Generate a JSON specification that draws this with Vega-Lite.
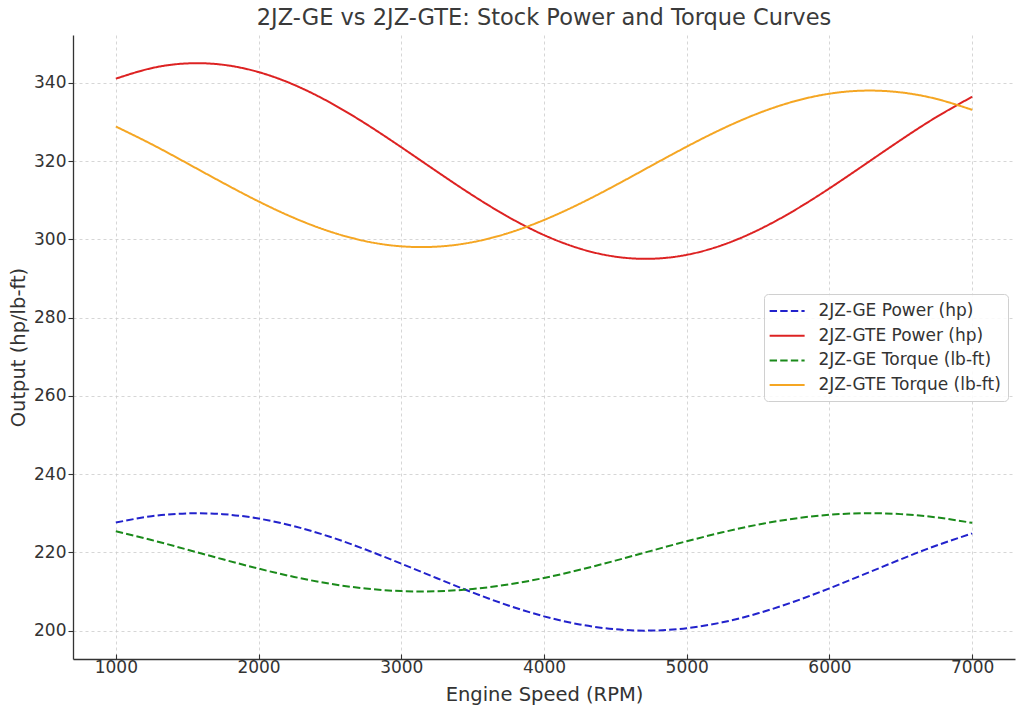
{
  "$schema": "https://vega.github.io/schema/vega-lite/v6.json",
  "width": 942,
  "height": 624,
  "autosize": {"type": "none"},
  "padding": {"left": 73, "top": 35, "right": 9, "bottom": 57},
  "background": "white",
  "title": {"text": "2JZ-GE vs 2JZ-GTE: Stock Power and Torque Curves", "fontSize": 22.5, "font": "DejaVu Sans", "fontWeight": "normal", "color": "#3a3a3a", "anchor": "middle", "offset": 6},
  "config": {
    "view": {"stroke": null},
    "font": "DejaVu Sans",
    "axis": {"labelFont": "DejaVu Sans", "titleFont": "DejaVu Sans", "labelColor": "#333333", "titleColor": "#333333", "titleFontWeight": "normal", "domainColor": "#333333", "tickColor": "#333333", "domainWidth": 1.3, "tickWidth": 1.1, "gridColor": "#cccccc", "gridDash": [3, 3], "gridWidth": 0.8, "labelFontSize": 17, "titleFontSize": 19.5}
  },
  "data": {"values": [
    {"rpm":1000,"series":"2JZ-GE Power (hp)","value":227.62},
    {"rpm":1250,"series":"2JZ-GE Power (hp)","value":229.23},
    {"rpm":1500,"series":"2JZ-GE Power (hp)","value":229.96},
    {"rpm":1750,"series":"2JZ-GE Power (hp)","value":229.76},
    {"rpm":2000,"series":"2JZ-GE Power (hp)","value":228.64},
    {"rpm":2250,"series":"2JZ-GE Power (hp)","value":226.67},
    {"rpm":2500,"series":"2JZ-GE Power (hp)","value":223.98},
    {"rpm":2750,"series":"2JZ-GE Power (hp)","value":220.72},
    {"rpm":3000,"series":"2JZ-GE Power (hp)","value":217.12},
    {"rpm":3250,"series":"2JZ-GE Power (hp)","value":213.38},
    {"rpm":3500,"series":"2JZ-GE Power (hp)","value":209.74},
    {"rpm":3750,"series":"2JZ-GE Power (hp)","value":206.43},
    {"rpm":4000,"series":"2JZ-GE Power (hp)","value":203.65},
    {"rpm":4250,"series":"2JZ-GE Power (hp)","value":201.58},
    {"rpm":4500,"series":"2JZ-GE Power (hp)","value":200.34},
    {"rpm":4750,"series":"2JZ-GE Power (hp)","value":200.01},
    {"rpm":5000,"series":"2JZ-GE Power (hp)","value":200.62},
    {"rpm":5250,"series":"2JZ-GE Power (hp)","value":202.12},
    {"rpm":5500,"series":"2JZ-GE Power (hp)","value":204.42},
    {"rpm":5750,"series":"2JZ-GE Power (hp)","value":207.38},
    {"rpm":6000,"series":"2JZ-GE Power (hp)","value":210.81},
    {"rpm":6250,"series":"2JZ-GE Power (hp)","value":214.50},
    {"rpm":6500,"series":"2JZ-GE Power (hp)","value":218.23},
    {"rpm":6750,"series":"2JZ-GE Power (hp)","value":221.75},
    {"rpm":7000,"series":"2JZ-GE Power (hp)","value":224.85},
    {"rpm":1000,"series":"2JZ-GTE Power (hp)","value":341.04},
    {"rpm":1250,"series":"2JZ-GTE Power (hp)","value":343.72},
    {"rpm":1500,"series":"2JZ-GTE Power (hp)","value":344.94},
    {"rpm":1750,"series":"2JZ-GTE Power (hp)","value":344.60},
    {"rpm":2000,"series":"2JZ-GTE Power (hp)","value":342.73},
    {"rpm":2250,"series":"2JZ-GTE Power (hp)","value":339.45},
    {"rpm":2500,"series":"2JZ-GTE Power (hp)","value":334.96},
    {"rpm":2750,"series":"2JZ-GTE Power (hp)","value":329.54},
    {"rpm":3000,"series":"2JZ-GTE Power (hp)","value":323.53},
    {"rpm":3250,"series":"2JZ-GTE Power (hp)","value":317.30},
    {"rpm":3500,"series":"2JZ-GTE Power (hp)","value":311.23},
    {"rpm":3750,"series":"2JZ-GTE Power (hp)","value":305.71},
    {"rpm":4000,"series":"2JZ-GTE Power (hp)","value":301.08},
    {"rpm":4250,"series":"2JZ-GTE Power (hp)","value":297.63},
    {"rpm":4500,"series":"2JZ-GTE Power (hp)","value":295.56},
    {"rpm":4750,"series":"2JZ-GTE Power (hp)","value":295.02},
    {"rpm":5000,"series":"2JZ-GTE Power (hp)","value":296.03},
    {"rpm":5250,"series":"2JZ-GTE Power (hp)","value":298.53},
    {"rpm":5500,"series":"2JZ-GTE Power (hp)","value":302.36},
    {"rpm":5750,"series":"2JZ-GTE Power (hp)","value":307.29},
    {"rpm":6000,"series":"2JZ-GTE Power (hp)","value":313.01},
    {"rpm":6250,"series":"2JZ-GTE Power (hp)","value":319.17},
    {"rpm":6500,"series":"2JZ-GTE Power (hp)","value":325.38},
    {"rpm":6750,"series":"2JZ-GTE Power (hp)","value":331.25},
    {"rpm":7000,"series":"2JZ-GTE Power (hp)","value":336.42},
    {"rpm":1000,"series":"2JZ-GE Torque (lb-ft)","value":225.40},
    {"rpm":1250,"series":"2JZ-GE Torque (lb-ft)","value":223.15},
    {"rpm":1500,"series":"2JZ-GE Torque (lb-ft)","value":220.71},
    {"rpm":1750,"series":"2JZ-GE Torque (lb-ft)","value":218.22},
    {"rpm":2000,"series":"2JZ-GE Torque (lb-ft)","value":215.84},
    {"rpm":2250,"series":"2JZ-GE Torque (lb-ft)","value":213.72},
    {"rpm":2500,"series":"2JZ-GE Torque (lb-ft)","value":211.99},
    {"rpm":2750,"series":"2JZ-GE Torque (lb-ft)","value":210.76},
    {"rpm":3000,"series":"2JZ-GE Torque (lb-ft)","value":210.10},
    {"rpm":3250,"series":"2JZ-GE Torque (lb-ft)","value":210.06},
    {"rpm":3500,"series":"2JZ-GE Torque (lb-ft)","value":210.64},
    {"rpm":3750,"series":"2JZ-GE Torque (lb-ft)","value":211.79},
    {"rpm":4000,"series":"2JZ-GE Torque (lb-ft)","value":213.46},
    {"rpm":4250,"series":"2JZ-GE Torque (lb-ft)","value":215.54},
    {"rpm":4500,"series":"2JZ-GE Torque (lb-ft)","value":217.89},
    {"rpm":4750,"series":"2JZ-GE Torque (lb-ft)","value":220.38},
    {"rpm":5000,"series":"2JZ-GE Torque (lb-ft)","value":222.84},
    {"rpm":5250,"series":"2JZ-GE Torque (lb-ft)","value":225.12},
    {"rpm":5500,"series":"2JZ-GE Torque (lb-ft)","value":227.09},
    {"rpm":5750,"series":"2JZ-GE Torque (lb-ft)","value":228.61},
    {"rpm":6000,"series":"2JZ-GE Torque (lb-ft)","value":229.60},
    {"rpm":6250,"series":"2JZ-GE Torque (lb-ft)","value":229.99},
    {"rpm":6500,"series":"2JZ-GE Torque (lb-ft)","value":229.77},
    {"rpm":6750,"series":"2JZ-GE Torque (lb-ft)","value":228.93},
    {"rpm":7000,"series":"2JZ-GE Torque (lb-ft)","value":227.54},
    {"rpm":1000,"series":"2JZ-GTE Torque (lb-ft)","value":328.81},
    {"rpm":1250,"series":"2JZ-GTE Torque (lb-ft)","value":324.31},
    {"rpm":1500,"series":"2JZ-GTE Torque (lb-ft)","value":319.41},
    {"rpm":1750,"series":"2JZ-GTE Torque (lb-ft)","value":314.44},
    {"rpm":2000,"series":"2JZ-GTE Torque (lb-ft)","value":309.68},
    {"rpm":2250,"series":"2JZ-GTE Torque (lb-ft)","value":305.44},
    {"rpm":2500,"series":"2JZ-GTE Torque (lb-ft)","value":301.98},
    {"rpm":2750,"series":"2JZ-GTE Torque (lb-ft)","value":299.51},
    {"rpm":3000,"series":"2JZ-GTE Torque (lb-ft)","value":298.20},
    {"rpm":3250,"series":"2JZ-GTE Torque (lb-ft)","value":298.12},
    {"rpm":3500,"series":"2JZ-GTE Torque (lb-ft)","value":299.27},
    {"rpm":3750,"series":"2JZ-GTE Torque (lb-ft)","value":301.59},
    {"rpm":4000,"series":"2JZ-GTE Torque (lb-ft)","value":304.93},
    {"rpm":4250,"series":"2JZ-GTE Torque (lb-ft)","value":309.08},
    {"rpm":4500,"series":"2JZ-GTE Torque (lb-ft)","value":313.78},
    {"rpm":4750,"series":"2JZ-GTE Torque (lb-ft)","value":318.75},
    {"rpm":5000,"series":"2JZ-GTE Torque (lb-ft)","value":323.67},
    {"rpm":5250,"series":"2JZ-GTE Torque (lb-ft)","value":328.24},
    {"rpm":5500,"series":"2JZ-GTE Torque (lb-ft)","value":332.17},
    {"rpm":5750,"series":"2JZ-GTE Torque (lb-ft)","value":335.22},
    {"rpm":6000,"series":"2JZ-GTE Torque (lb-ft)","value":337.20},
    {"rpm":6250,"series":"2JZ-GTE Torque (lb-ft)","value":337.99},
    {"rpm":6500,"series":"2JZ-GTE Torque (lb-ft)","value":337.53},
    {"rpm":6750,"series":"2JZ-GTE Torque (lb-ft)","value":335.86},
    {"rpm":7000,"series":"2JZ-GTE Torque (lb-ft)","value":333.08}
  ]},
  "mark": {"type": "line", "interpolate": "natural", "strokeWidth": 2},
  "encoding": {
    "x": {"field": "rpm", "type": "quantitative", "scale": {"domain": [700, 7300], "nice": false, "zero": false},
      "axis": {"title": "Engine Speed (RPM)", "values": [1000, 2000, 3000, 4000, 5000, 6000, 7000], "format": "d", "tickSize": -5, "labelPadding": 5, "titleY": 35, "titleBaseline": "middle"}},
    "y": {"field": "value", "type": "quantitative", "scale": {"domain": [192.75, 352.2], "nice": false, "zero": false},
      "axis": {"title": "Output (hp/lb-ft)", "values": [200, 220, 240, 260, 280, 300, 320, 340], "tickSize": 5, "labelPadding": 2, "titleX": -55, "titleY": 312, "titleAngle": 270, "titleAlign": "center", "titleBaseline": "middle"}},
    "color": {"field": "series", "type": "nominal",
      "scale": {"domain": ["2JZ-GE Power (hp)", "2JZ-GTE Power (hp)", "2JZ-GE Torque (lb-ft)", "2JZ-GTE Torque (lb-ft)"], "range": ["#2222cc", "#dd2222", "#1a8a1a", "#f5a623"]},
      "legend": {"title": null, "orient": "none", "legendX": 691, "legendY": 259, "symbolType": "M-1.3,0H2.7", "symbolSize": 306, "symbolStrokeWidth": 2, "symbolFillColor": "transparent", "labelFontSize": 17, "labelFont": "DejaVu Sans", "labelLimit": 400, "labelColor": "#333333", "labelOffset": 27.5, "rowPadding": 6.7, "padding": 7, "strokeColor": "#d0d0d0", "fillColor": "rgba(255,255,255,0.85)", "cornerRadius": 4}},
    "strokeDash": {"field": "series", "type": "nominal",
      "scale": {"domain": ["2JZ-GE Power (hp)", "2JZ-GTE Power (hp)", "2JZ-GE Torque (lb-ft)", "2JZ-GTE Torque (lb-ft)"], "range": [[7.4, 3.2], [1, 0], [7.4, 3.2], [1, 0]]},
      "legend": null}
  }
}
